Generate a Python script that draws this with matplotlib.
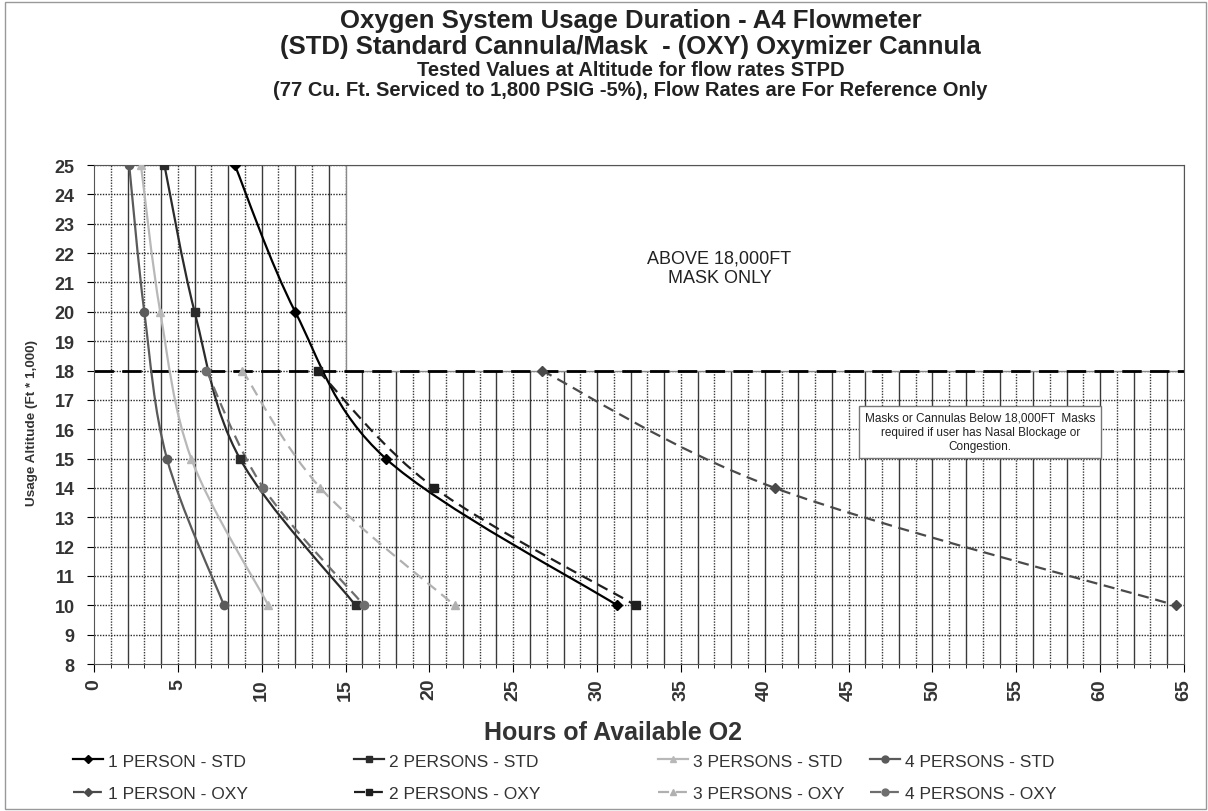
import matplotlib.pyplot as plt
import numpy as np
from matplotlib.path import Path
from matplotlib.patches import PathPatch, Rectangle
from matplotlib.lines import Line2D

plt.rcParams['font.family'] = ['Liberation Sans', 'DejaVu Sans']

# altitudes (thousands of ft) where each cannula type was tested
alt_std = [25, 20, 15, 10]
alt_oxy = [18, 14, 10]

# hours of O2 available
one_std = [8.4, 12.0, 17.4, 31.2]
two_std = [4.2, 6.0, 8.7, 15.6]
three_std = [2.8, 3.95, 5.8, 10.4]
four_std = [2.1, 3.0, 4.35, 7.75]

one_oxy = [26.7, 40.6, 64.5]
two_oxy = [13.35, 20.3, 32.3]
three_oxy = [8.85, 13.5, 21.5]
four_oxy = [6.7, 10.1, 16.1]

labels = ['1 PERSON - STD', '1 PERSON - OXY', '2 PERSONS - STD', '2 PERSONS - OXY',
          '3 PERSONS - STD', '3 PERSONS - OXY', '4 PERSONS - STD', '4 PERSONS - OXY']


def smooth_path(xs, ys):
    # excel-like smoothed line: catmull-rom segments turned into cubic beziers
    pts = np.column_stack([xs, ys]).astype(float)
    n = len(pts)
    verts = [pts[0]]
    codes = [Path.MOVETO]
    for i in range(n - 1):
        p0 = pts[i - 1] if i > 0 else pts[i]
        p1, p2 = pts[i], pts[i + 1]
        p3 = pts[i + 2] if i + 2 < n else pts[i + 1]
        verts += [p1 + (p2 - p0) / 6, p2 - (p3 - p1) / 6, p2]
        codes += [Path.CURVE4] * 3
    return Path(verts, codes)


series = [
    (one_std, alt_std, '#000000', '-', 'D', 5),
    (one_oxy, alt_oxy, '#4a4a4a', (0, (5, 3)), 'D', 5),
    (two_std, alt_std, '#2b2b2b', '-', 's', 6),
    (two_oxy, alt_oxy, '#1e1e1e', (0, (5, 3)), 's', 6),
    (three_std, alt_std, '#b8b8b8', '-', '^', 6),
    (three_oxy, alt_oxy, '#b0b0b0', (0, (5, 3)), '^', 6),
    (four_std, alt_std, '#5a5a5a', '-', 'o', 6),
    (four_oxy, alt_oxy, '#6e6e6e', (0, (5, 3)), 'o', 6),
]

fig = plt.figure(figsize=(12.08, 8.12), dpi=100)
ax = fig.add_axes([0.0778, 0.181, 0.9023, 0.6145])

ax.set_xlim(0, 65)
ax.set_ylim(8, 25)

# grid: solid every 2 h, dotted in between, dotted rows every 1,000 ft
for xv in range(1, 65):
    if xv % 2 == 0:
        ax.axvline(xv, color='#3a3a3a', lw=1.0, zorder=1)
    else:
        ax.axvline(xv, color='#3a3a3a', lw=1.0, ls=(0, (1, 1)), zorder=1)
for yv in range(9, 26):
    ax.axhline(yv, color='#2a2a2a', lw=1.0, ls=(0, (1, 1)), zorder=1)

# mask-only region above 18,000 ft
ax.add_patch(Rectangle((15, 18), 50, 7, facecolor='white', edgecolor='#8a8a8a', lw=1, zorder=2))
ax.text(37.3, 21.5, 'ABOVE 18,000FT\nMASK ONLY', ha='center', va='center', fontsize=13,
        linespacing=1.2, color='#222222', zorder=5)
ax.axhline(18, color='black', lw=2.0, ls=(0, (7, 3)), zorder=2.5)

ax.text(52.85, 15.9, 'Masks or Cannulas Below 18,000FT  Masks\nrequired if user has Nasal Blockage or\nCongestion.',
        ha='center', va='center', fontsize=8.5, color='#222222', linespacing=1.25, zorder=5,
        bbox=dict(boxstyle='square,pad=0.5', facecolor='white', edgecolor='#777777', lw=1))

handles = []
for (xs, ys, col, ls, mk, ms), lab in zip(series, labels):
    ax.add_patch(PathPatch(smooth_path(xs, ys), facecolor='none', edgecolor=col, lw=1.6,
                           linestyle=ls, zorder=3))
    ax.plot(xs, ys, linestyle='none', marker=mk, markersize=ms, color=col, zorder=4)
    handles.append(Line2D([], [], color=col, lw=1.6, linestyle=ls, marker=mk, markersize=ms - 1))

ax.set_xticks(np.arange(0, 66, 5))
ax.set_xticks(np.arange(0, 66, 1), minor=True)
ax.set_yticks(np.arange(8, 26, 1))
ax.tick_params(axis='x', which='major', labelsize=14, labelrotation=90, length=6, pad=4)
ax.tick_params(axis='x', which='minor', length=3)
ax.tick_params(axis='y', labelsize=13, length=5, pad=9)
for t in ax.get_xticklabels() + ax.get_yticklabels():
    t.set_fontweight('bold')
    t.set_color('#333333')
for s in ax.spines.values():
    s.set_color('#555555')
    s.set_linewidth(0.8)

ax.set_xlabel('Hours of Available O2', fontsize=18, fontweight='bold', color='#333333')
ax.xaxis.set_label_coords(0.476, -0.112)
ax.set_ylabel('Usage Altitude (Ft * 1,000)', fontsize=9.7, fontweight='bold', color='#333333')
ax.yaxis.set_label_coords(-0.051, 0.485)

cx = 0.522
fig.text(cx, 0.974, 'Oxygen System Usage Duration - A4 Flowmeter', ha='center', va='center',
         fontsize=18.5, fontweight='bold', color='#222222')
fig.text(cx, 0.942, '(STD) Standard Cannula/Mask  - (OXY) Oxymizer Cannula', ha='center', va='center',
         fontsize=18.5, fontweight='bold', color='#222222')
fig.text(cx, 0.913, 'Tested Values at Altitude for flow rates STPD', ha='center', va='center',
         fontsize=14.5, fontweight='bold', color='#222222')
fig.text(cx, 0.888, '(77 Cu. Ft. Serviced to 1,800 PSIG -5%), Flow Rates are For Reference Only',
         ha='center', va='center', fontsize=14.5, fontweight='bold', color='#222222')

# legend: one column per group size, STD on top, OXY below
col_x = [73, 354, 658, 870]
for k, px in enumerate(col_x):
    fig.legend(handles[2 * k:2 * k + 2], labels[2 * k:2 * k + 2], loc='upper left',
               bbox_to_anchor=(px / 1208, 0.071), frameon=False, borderpad=0, borderaxespad=0,
               fontsize=12.5, handlelength=1.7, handletextpad=0.3, labelspacing=0.98,
               labelcolor='#333333')

fig.patches.append(Rectangle((0.004, 0.002), 0.994, 0.994, transform=fig.transFigure,
                             fill=False, edgecolor='#999999', lw=1))

fig.savefig('out.png', dpi=100)
